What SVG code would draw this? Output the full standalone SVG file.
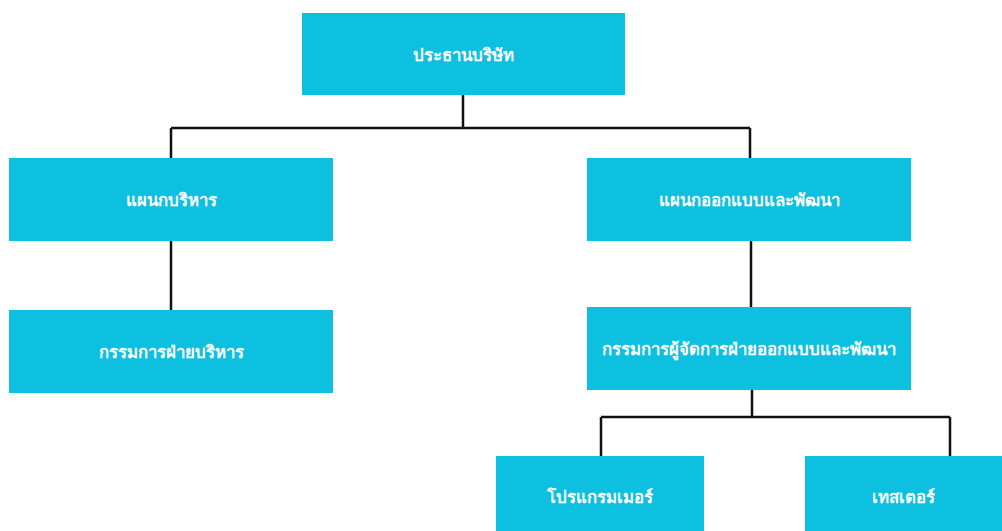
<svg xmlns="http://www.w3.org/2000/svg" width="1002" height="531" viewBox="0 0 1002 531">
<style>
.box{fill:#0EC0E0;}
.lbl{fill:#ffffff;font-family:"Noto Sans","Noto Sans CJK SC",sans-serif;font-weight:bold;font-size:16.8px;text-anchor:middle;dominant-baseline:central;}
.con{fill:none;stroke:#111111;stroke-width:2.5;}
</style>
<rect width="1002" height="531" fill="#ffffff"/>
<g id="connectors">
<path class="con" d="M463,95 V128 M171,128 H750 M171,128 V158 M750,128 V158"/>
<path class="con" d="M171,241 V310"/>
<path class="con" d="M751,241 V307"/>
<path class="con" d="M752,390 V417 M601,417 H950 M601,417 V456 M950,417 V456"/>
</g>
<g id="n-president"><rect class="box" x="302" y="13" width="323" height="82"/><text class="lbl" x="463" y="54">ประธานบริษัท</text></g>
<g id="n-admin-dept"><rect class="box" x="9" y="158" width="324" height="83"/><text class="lbl" x="171" y="199">แผนกบริหาร</text></g>
<g id="n-design-dept"><rect class="box" x="587" y="158" width="324" height="83"/><text class="lbl" x="749" y="199">แผนกออกแบบและพัฒนา</text></g>
<g id="n-admin-director"><rect class="box" x="9" y="310" width="324" height="83"/><text class="lbl" x="171" y="351">กรรมการฝ่ายบริหาร</text></g>
<g id="n-design-md"><rect class="box" x="587" y="307" width="324" height="83"/><text class="lbl" x="749" y="348">กรรมการผู้จัดการฝ่ายออกแบบและพัฒนา</text></g>
<g id="n-programmer"><rect class="box" x="496" y="456" width="208" height="80"/><text class="lbl" x="600" y="496">โปรแกรมเมอร์</text></g>
<g id="n-tester"><rect class="box" x="805" y="456" width="200" height="80"/><text class="lbl" x="903" y="496">เทสเตอร์</text></g>
</svg>
